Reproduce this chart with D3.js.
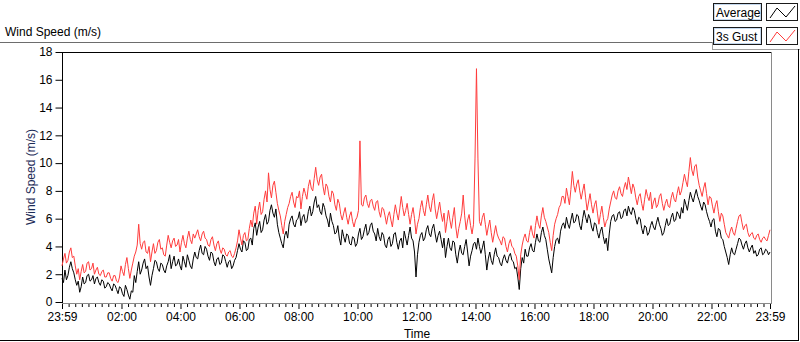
<!DOCTYPE html>
<html>
<head>
<meta charset="utf-8">
<script src="https://cdn.jsdelivr.net/npm/d3@7"></script>
<style>
  body { margin: 0; background: #fff; }
  svg { display: block; font-family: 'Liberation Sans', Arial, sans-serif; }
</style>
</head>
<body>
<svg id="chart" width="800" height="342"></svg>
<script>
// one sample every 3 minutes, starting 23:59 (one row = one hour)
const startTime = new Date(2019, 5, 1, 23, 59);
const stepMinutes = 3;

const avgSpeed = [
  1.7, 1.4, 2.3, 1.6, 1.9, 2.5, 2.9, 2.4, 2.1, 1.6, 1.2, 1.5, 0.7, 1.1, 1.8, 1.3, 1.4, 1.9, 2.0, 1.5,
  1.6, 1.9, 1.3, 1.7, 1.8, 1.4, 1.2, 1.6, 1.5, 1.0, 1.1, 1.4, 1.3, 1.0, 0.8, 1.3, 1.2, 0.9, 0.6, 1.1,
  1.0, 0.6, 0.4, 1.2, 0.9, 0.5, 0.2, 0.8, 0.7, 1.9, 1.4, 2.2, 2.9, 2.0, 2.3, 2.8, 3.1, 2.4, 2.6, 1.8,
  1.2, 1.9, 2.4, 3.0, 2.9, 2.4, 2.2, 2.8, 2.7, 2.3, 2.1, 2.6, 2.9, 3.4, 2.4, 2.9, 3.3, 2.6, 2.7, 3.1,
  2.6, 2.3, 3.3, 2.9, 2.5, 3.4, 3.0, 2.6, 2.4, 3.1, 3.6, 3.2, 3.1, 3.7, 4.1, 3.5, 3.4, 4.0, 3.8, 3.3,
  3.0, 3.6, 3.5, 2.9, 2.6, 3.1, 3.2, 2.7, 2.8, 3.4, 3.3, 2.9, 2.5, 2.9, 3.0, 2.4, 2.6, 3.0, 3.2, 3.7,
  4.2, 3.8, 3.6, 4.4, 4.3, 3.7, 3.8, 4.5, 4.6, 4.1, 5.3, 5.7, 4.8, 5.4, 5.8, 5.0, 5.2, 5.9, 6.3, 5.6,
  5.8, 6.6, 7.0, 6.4, 6.1, 6.7, 5.6, 5.0, 4.6, 4.2, 3.9, 4.8, 5.1, 4.6, 5.6, 6.0, 6.2, 5.6, 5.4, 5.9,
  6.0, 6.5, 5.5, 6.1, 6.3, 5.7, 5.8, 6.5, 6.9, 6.2, 6.5, 7.2, 7.6, 6.8, 7.0, 6.5, 6.3, 7.1, 6.8, 6.2,
  5.9, 5.4, 6.4, 5.8, 5.5, 4.9, 5.0, 5.5, 4.6, 4.1, 5.2, 4.7, 4.3, 4.9, 4.8, 4.2, 4.1, 4.7, 4.6, 4.0,
  4.2, 4.9, 5.3, 4.5, 4.7, 5.2, 5.6, 4.8, 5.0, 5.5, 5.7, 5.1, 4.9, 4.4, 5.3, 4.7, 4.4, 5.0, 4.8, 4.1,
  3.9, 4.5, 4.7, 4.0, 4.2, 4.9, 5.0, 4.3, 3.8, 4.4, 4.6, 3.9, 5.1, 4.6, 4.1, 4.8, 5.4, 4.6, 4.4, 3.6,
  1.8, 3.4, 4.3, 4.8, 5.0, 4.4, 4.6, 5.2, 5.5, 4.9, 4.7, 5.3, 5.6, 4.9, 4.3, 4.8, 5.1, 4.5, 3.9, 4.6,
  3.2, 4.0, 4.6, 3.9, 3.7, 4.4, 4.3, 3.4, 2.8, 3.6, 4.1, 3.5, 3.4, 4.0, 4.5, 3.6, 2.6, 3.3, 3.7, 4.2,
  4.3, 3.8, 4.6, 4.0, 3.5, 3.9, 4.4, 3.4, 2.3, 3.1, 3.6, 3.0, 2.7, 3.4, 3.9, 3.3, 3.2, 2.8, 2.6, 3.1,
  3.4, 3.0, 2.8, 3.3, 3.5, 3.0, 2.9, 2.4, 2.5, 1.8, 0.9, 2.4, 3.2, 2.8, 3.8, 3.3, 3.3, 3.9, 4.2, 3.7,
  3.6, 4.3, 4.9, 4.4, 4.3, 5.0, 5.4, 4.8, 4.5, 3.8, 3.1, 2.6, 2.1, 3.2, 4.0, 4.5, 4.6, 4.2, 5.1, 5.5,
  5.7, 5.3, 6.1, 5.6, 5.3, 5.9, 6.4, 5.7, 5.8, 6.3, 6.2, 5.5, 5.2, 6.0, 6.6, 6.1, 5.7, 6.3, 6.0, 5.4,
  5.1, 5.7, 5.6, 5.0, 4.6, 5.1, 5.4, 4.7, 4.2, 4.6, 3.7, 4.9, 5.8, 6.2, 6.3, 5.8, 5.9, 6.4, 6.5, 6.0,
  6.1, 6.6, 6.7, 6.2, 6.9, 6.5, 6.3, 6.8, 6.6, 6.0, 5.6, 6.1, 6.0, 5.3, 4.9, 5.5, 5.4, 4.8, 5.0, 5.5,
  5.8, 5.4, 5.2, 5.7, 6.1, 5.6, 5.3, 4.8, 5.0, 5.5, 6.0, 5.5, 5.6, 6.1, 6.4, 5.8, 5.9, 6.5, 6.3, 6.0,
  6.8, 6.4, 7.4, 7.0, 6.6, 7.3, 7.9, 7.5, 7.2, 7.7, 8.1, 7.6, 7.3, 6.9, 6.6, 7.2, 7.0, 6.5, 6.1, 5.8,
  5.4, 5.9, 6.0, 5.1, 4.7, 5.3, 5.2, 4.6, 4.5, 4.0, 3.6, 3.2, 2.7, 3.4, 3.9, 3.5, 3.4, 3.8, 4.2, 4.6,
  4.5, 4.1, 3.8, 4.2, 4.4, 3.9, 3.6, 3.9, 4.1, 3.5, 3.7, 3.3, 3.4, 3.8, 3.9, 3.4, 3.5, 3.8, 3.7, 3.4,
  3.6
];

const gustSpeed = [
  2.6, 3.1, 3.5, 2.8, 3.0, 3.6, 3.9, 3.2, 3.3, 2.6, 2.0, 2.4, 1.6, 2.2, 2.7, 2.1, 2.2, 2.8, 2.9, 2.3,
  2.4, 2.8, 2.0, 2.3, 2.5, 2.0, 1.9, 2.2, 2.3, 1.8, 1.8, 2.1, 2.1, 1.7, 1.5, 1.9, 1.9, 1.5, 1.4, 1.8,
  2.6, 2.2, 1.9, 2.7, 3.2, 2.4, 1.7, 2.3, 2.8, 3.3, 3.6, 4.1, 5.6, 4.2, 3.8, 4.3, 4.4, 3.6, 3.5, 4.0,
  2.9, 3.6, 4.2, 3.5, 3.7, 4.3, 4.5, 3.8, 3.9, 3.4, 3.3, 4.1, 4.8, 4.3, 3.9, 4.4, 4.6, 4.0, 4.1, 4.5,
  3.6, 4.3, 4.8, 4.2, 3.9, 4.6, 5.1, 4.5, 4.2, 4.9, 4.6, 4.9, 5.2, 4.7, 4.4, 4.9, 5.1, 4.6, 4.5, 4.1,
  4.0, 4.5, 4.7, 4.1, 3.7, 4.2, 4.4, 3.8, 3.5, 3.9, 3.8, 3.4, 3.3, 3.6, 3.7, 3.3, 3.2, 3.5, 3.9, 4.4,
  5.2, 4.6, 4.1, 4.8, 5.0, 4.4, 4.5, 5.3, 5.9, 5.4, 6.4, 6.9, 5.6, 6.6, 7.2, 6.3, 6.5, 7.4, 8.0, 7.2,
  9.3, 8.1, 7.5, 8.4, 8.7, 7.9, 7.1, 6.6, 6.2, 5.5, 4.9, 5.8, 6.3, 6.8, 7.1, 7.6, 7.9, 7.2, 6.8, 7.6,
  7.5, 8.0, 6.7, 7.6, 8.2, 7.8, 7.4, 8.3, 8.8, 8.2, 8.0, 8.9, 9.7, 8.8, 8.4, 9.0, 9.2, 8.3, 7.7, 8.5,
  8.3, 7.6, 7.2, 8.0, 7.8, 7.0, 6.6, 7.4, 7.1, 6.3, 5.9, 6.4, 6.8, 6.1, 5.6, 6.2, 6.5, 5.8, 5.4, 5.9,
  6.1, 6.6, 11.6, 7.0, 6.9, 7.5, 7.7, 7.1, 6.8, 7.3, 7.4, 6.9, 6.6, 7.2, 7.3, 6.5, 6.1, 6.8, 6.7, 6.2,
  5.6, 6.2, 6.5, 5.9, 5.4, 6.3, 7.0, 6.4, 5.9, 6.7, 7.6, 6.8, 6.2, 6.6, 7.1, 6.3, 5.6, 6.3, 6.8, 6.0,
  4.9, 5.6, 6.0, 6.8, 7.3, 6.6, 6.2, 7.0, 7.7, 6.9, 6.5, 7.3, 7.8, 6.7, 6.0, 6.6, 7.2, 6.4, 5.8, 6.4,
  5.0, 5.8, 6.6, 5.9, 5.3, 6.1, 6.8, 5.4, 4.6, 5.3, 5.8, 6.4, 7.7, 6.2, 5.2, 5.9, 6.3, 5.5, 4.9, 5.6,
  10.3, 16.8, 10.3, 5.8, 5.5, 6.1, 6.4, 5.6, 4.8, 5.4, 5.9, 5.0, 4.3, 4.9, 5.5, 4.9, 4.6, 4.4, 4.1, 4.7,
  4.6, 4.0, 3.6, 4.2, 4.5, 4.0, 3.9, 3.5, 3.3, 2.6, 1.6, 3.4, 4.1, 4.6, 4.9, 4.4, 4.3, 5.0, 5.5, 4.9,
  4.6, 5.5, 6.2, 5.6, 5.3, 6.2, 6.8, 6.1, 5.8, 5.4, 5.0, 4.3, 3.7, 4.8, 5.6, 6.0, 6.3, 6.8, 7.0, 7.6,
  7.6, 7.1, 8.2, 7.6, 7.0, 8.1, 9.4, 8.4, 7.9, 8.5, 8.8, 8.0, 7.4, 8.0, 8.5, 7.5, 6.6, 7.2, 7.8, 7.0,
  6.4, 7.0, 7.3, 6.4, 5.6, 6.3, 6.9, 6.1, 5.4, 5.8, 6.0, 6.7, 7.2, 7.7, 8.0, 7.5, 7.4, 8.0, 8.3, 7.8,
  7.6, 8.2, 8.6, 8.1, 9.0, 8.4, 7.8, 8.5, 8.2, 7.5, 7.0, 7.6, 7.8, 7.1, 6.6, 7.4, 8.1, 7.6, 7.3, 7.9,
  6.7, 7.2, 7.5, 6.8, 7.0, 7.6, 7.8, 7.1, 6.6, 7.1, 7.4, 6.9, 6.8, 7.5, 7.9, 7.4, 7.2, 7.8, 8.3, 7.7,
  8.0, 8.6, 9.2, 8.7, 8.3, 9.4, 10.4, 9.5, 9.1, 9.8, 9.9, 9.0, 8.4, 8.0, 7.6, 8.2, 8.6, 7.8, 7.0, 7.6,
  7.5, 6.9, 6.4, 7.0, 7.3, 6.5, 5.8, 6.4, 6.2, 5.6, 5.0, 4.8, 4.6, 5.1, 5.4, 5.0, 4.8, 5.3, 5.8, 6.2,
  6.3, 5.7, 5.2, 5.5, 5.6, 5.0, 4.7, 4.9, 5.0, 4.6, 4.5, 4.8, 4.9, 4.5, 4.3, 4.6, 4.7, 4.5, 4.4, 4.8,
  5.2
];

const yTicks = [0, 2, 4, 6, 8, 10, 12, 14, 16, 18];
const xTickHours = [2, 4, 6, 8, 10, 12, 14, 16, 18, 20, 22];
const minorPerMajor = 8;
const seriesNames = ['Average', '3s Gust'];
const seriesColors = ['#000000', '#ff3c3c'];

const svg = d3.select('#chart');

const plotLeft = 62, plotRight = 771, plotTop = 52, plotBottom = 302;
const endTime = new Date(startTime.getTime() + 24 * 3600 * 1000);

const x = d3.scaleTime().domain([startTime, endTime]).range([plotLeft, 770]);
const y = d3.scaleLinear().domain([0, 18]).range([plotBottom, plotTop]);

const timeOf = i => new Date(startTime.getTime() + i * stepMinutes * 60000);

// panel frame
svg.append('line').attr('x1', 0).attr('x2', 712).attr('y1', 42.5).attr('y2', 42.5)
  .attr('stroke', '#6d6d6d');
svg.append('line').attr('x1', 712.5).attr('x2', 712.5).attr('y1', 42).attr('y2', 49)
  .attr('stroke', '#a0a0a0');
svg.append('line').attr('x1', 712).attr('x2', 800).attr('y1', 49.5).attr('y2', 49.5)
  .attr('stroke', '#a0a0a0');
svg.append('line').attr('x1', 798.5).attr('x2', 798.5).attr('y1', 49).attr('y2', 341)
  .attr('stroke', '#000');
svg.append('line').attr('x1', 0).attr('x2', 799).attr('y1', 340.5).attr('y2', 340.5)
  .attr('stroke', '#000');

// title
svg.append('text').attr('x', 5).attr('y', 36).style('font-size', '12px')
  .attr('fill', '#000').text('Wind Speed (m/s)');

// plot area
svg.append('rect').attr('x', plotLeft).attr('y', plotTop).attr('width', plotRight - plotLeft).attr('height', plotBottom - plotTop + 1)
  .attr('fill', '#fff');
svg.append('line').attr('x1', plotRight + 0.5).attr('x2', plotRight + 0.5).attr('y1', plotTop).attr('y2', plotBottom + 2)
  .attr('stroke', '#8a8a8a');
svg.append('line').attr('x1', plotLeft).attr('x2', plotRight + 1).attr('y1', plotBottom + 1.5).attr('y2', plotBottom + 1.5)
  .attr('stroke', '#8a8a8a');
svg.append('line').attr('x1', plotLeft).attr('x2', plotRight).attr('y1', plotTop + 0.5).attr('y2', plotTop + 0.5)
  .attr('stroke', '#000');

// y axis
const yAxis = d3.axisLeft(y).tickValues(yTicks).tickSize(7).tickPadding(3);
const gy = svg.append('g').attr('transform', 'translate(' + (plotLeft + 0.5) + ',0)').call(yAxis);
gy.select('.domain').remove();
gy.append('line').attr('x1', 0).attr('x2', 0).attr('y1', plotTop).attr('y2', plotBottom + 1).attr('stroke', '#000');
gy.selectAll('text').style('font-size', '12px').style('font-family', "'Liberation Sans', Arial, sans-serif")
  .attr('fill', '#000');

// x axis: major ticks every 2 h, 8 minor ticks between majors
const majorTicks = [startTime].concat(xTickHours.map(h => new Date(2019, 5, 2, h, 0)), [endTime]);
const minorTicks = [];
for (let k = 0; k < majorTicks.length - 1; k++) {
  const t0 = majorTicks[k].getTime(), t1 = majorTicks[k + 1].getTime();
  for (let j = 1; j <= minorPerMajor; j++) {
    minorTicks.push(new Date(t0 + (t1 - t0) * j / (minorPerMajor + 1)));
  }
}

const gxMinor = svg.append('g').attr('transform', 'translate(0,' + (plotBottom + 2) + ')')
  .call(d3.axisBottom(x).tickValues(minorTicks).tickSize(3).tickFormat(''));
gxMinor.select('.domain').remove();

const gx = svg.append('g').attr('transform', 'translate(0,' + (plotBottom + 2) + ')')
  .call(d3.axisBottom(x).tickValues(majorTicks).tickSize(5).tickPadding(3).tickFormat(d3.timeFormat('%H:%M')));
gx.select('.domain').remove();
gx.selectAll('text').style('font-size', '12px').style('font-family', "'Liberation Sans', Arial, sans-serif")
  .attr('fill', '#000');

// axis titles
svg.append('text').attr('transform', 'translate(35,177) rotate(-90)')
  .attr('text-anchor', 'middle').style('font-size', '12px').attr('fill', '#1c2b57')
  .text('Wind Speed (m/s)');
svg.append('text').attr('x', 417).attr('y', 338).attr('text-anchor', 'middle')
  .style('font-size', '12px').attr('fill', '#000').text('Time');

// series
const line = d3.line().x((d, i) => x(timeOf(i))).y(d => y(d));
const plots = svg.append('g');
[avgSpeed, gustSpeed].forEach((s, k) => {
  plots.append('path').datum(s).attr('d', line).attr('fill', 'none')
    .attr('stroke', seriesColors[k]).attr('stroke-width', 1);
});

// legend
const legend = svg.append('g').attr('id', 'legend');
seriesNames.forEach((name, k) => {
  const ly = 3 + k * 24;
  legend.append('rect').attr('x', 713.5).attr('y', ly + 0.5).attr('width', 48).attr('height', 17)
    .attr('fill', '#fff').attr('stroke', '#1a1a1a');
  legend.append('rect').attr('x', 714.5).attr('y', ly + 1.5).attr('width', 46).attr('height', 15)
    .attr('fill', 'none').attr('stroke', '#c4d8ee');
  legend.append('text').attr('x', 716).attr('y', ly + 14).style('font-size', '12px')
    .attr('fill', '#000').text(name);
  legend.append('rect').attr('x', 766.5).attr('y', ly + 0.5).attr('width', 31).attr('height', 17)
    .attr('fill', '#fff').attr('stroke', '#1a1a1a');
  const zig = [[770, ly + 15], [777, ly + 5], [786, ly + 14], [795, ly + 3]];
  legend.append('path').attr('d', d3.line()(zig)).attr('fill', 'none')
    .attr('stroke', seriesColors[k]).attr('stroke-width', 1);
});
</script>
</body>
</html>
